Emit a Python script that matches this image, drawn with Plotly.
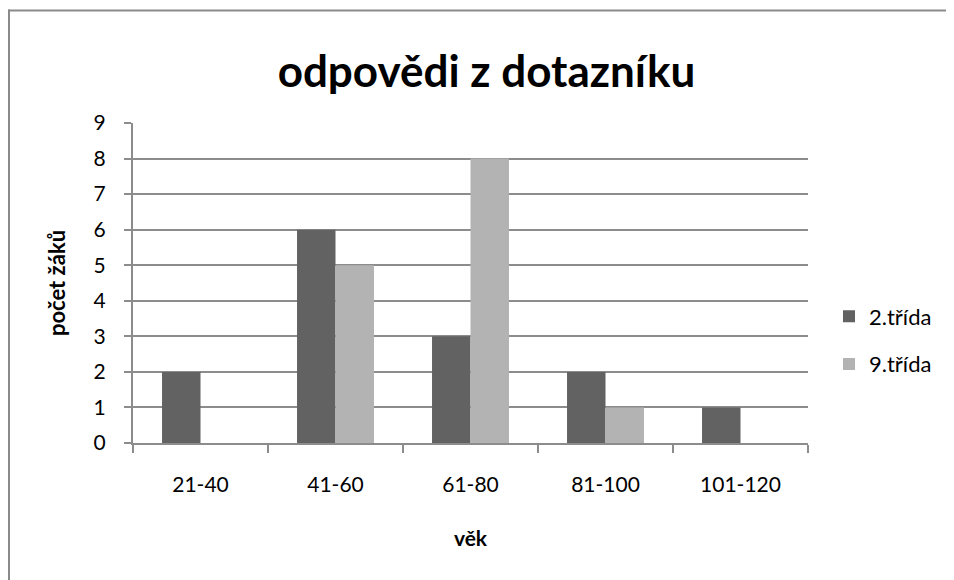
import plotly.graph_objects as go

categories = ["21-40", "41-60", "61-80", "81-100", "101-120"]
series_2 = [2, 6, 3, 2, 1]
series_9 = [0, 5, 8, 1, 0]
series_names = ["2.třída", "9.třída"]
y_ticks = list(range(0, 10))

FONT = "Lato"
GRID = "#8c8c8c"

L, R, T, B = 125, 154, 115, 145
PW, PH = 954 - L - R, 580 - T - B

fig = go.Figure()
fig.add_trace(go.Bar(x=categories, y=series_2, name=series_names[0], legendgroup="a",
                     marker_color="#626262", marker_line_width=0))
fig.add_trace(go.Bar(x=categories, y=series_9, name=series_names[1], legendgroup="b",
                     marker_color="#b3b3b3", marker_line_width=0))

fig.update_layout(
    width=954, height=580,
    margin=dict(l=L, r=R, t=T, b=B),
    paper_bgcolor="white", plot_bgcolor="white",
    barmode="group", bargap=0.43, bargroupgap=0,
    font=dict(family=FONT, color="black", size=21),
    title=dict(text="<b>odpovědi z dotazníku</b>", x=0.5016, xanchor="center", xref="container",
               y=1 - 64/580, yref="container", yanchor="middle",
               font=dict(family=FONT, size=44, color="black")),
    xaxis=dict(type="category", showline=True, linecolor=GRID, linewidth=2,
               ticks="outside", ticklen=8, tickcolor=GRID, tickwidth=2,
               tickson="boundaries", showgrid=False, ticklabelstandoff=22,
               tickfont=dict(size=21),
               title=dict(text="<b>věk</b>", font=dict(size=21), standoff=36)),
    yaxis=dict(range=[0, 9], tickvals=y_ticks, showline=True, linecolor=GRID, linewidth=2,
               ticks="outside", ticklen=7, tickcolor=GRID, tickwidth=2,
               showgrid=True, gridcolor=GRID, gridwidth=2, zeroline=False,
               ticklabelstandoff=14, tickfont=dict(size=21),
               title=dict(text="<b>počet žáků</b>", font=dict(size=22), standoff=22)),
    legend=dict(x=(821 - L) / PW, xanchor="left", y=(435 - 332.5) / PH, yanchor="middle",
                font=dict(size=22), tracegroupgap=16, bgcolor="rgba(0,0,0,0)"),
    showlegend=True,
)

# chart border (left and top edges visible)
fig.add_shape(type="line", xref="paper", yref="paper",
              x0=(1 - L) / PW, x1=(1 - L) / PW, y0=(435 - 620) / PH, y1=(435 - 1.5) / PH,
              line=dict(color="#8a8a8a", width=2))
fig.add_shape(type="line", xref="paper", yref="paper",
              x0=(0 - L) / PW, x1=(980 - L) / PW, y0=(435 - 2.5) / PH, y1=(435 - 2.5) / PH,
              line=dict(color="#8a8a8a", width=2))

fig.write_html("out.html")
